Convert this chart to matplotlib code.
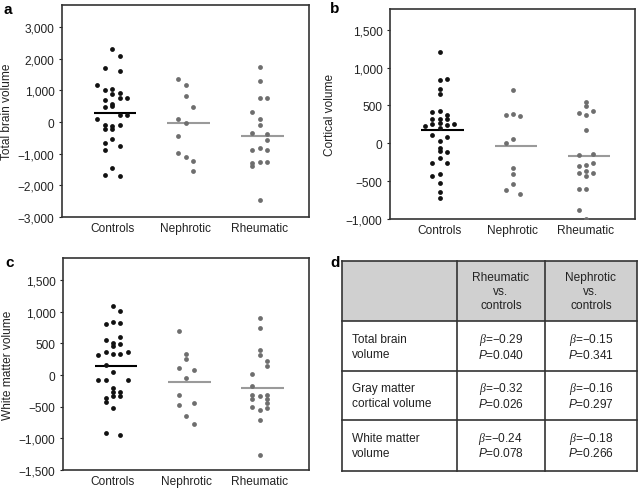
import numpy as np
import matplotlib
matplotlib.use('Agg')
import matplotlib.pyplot as plt
from matplotlib.ticker import FuncFormatter

plt.rcParams['font.family'] = ['Liberation Sans', 'DejaVu Sans']
plt.rcParams['mathtext.fontset'] = 'custom'
plt.rcParams['mathtext.it'] = 'Liberation Serif:italic'
plt.rcParams['mathtext.sf'] = 'Liberation Sans:italic'
plt.rcParams['mathtext.rm'] = 'Liberation Sans'

groups = ['Controls', 'Nephrotic', 'Rheumatic']

# --- panel a: total brain volume ---
tbv_controls = [2316, 2084, 1716, 1611, 1179, 1000, 1053, 916, 895, 684, 758, 758, 568, 495, 474,
                232, 232, 84, -105, -126, -105, -232, -210, -537, -663, -747, -884, -1453, -1663, -1716]
tbv_nephrotic = [1368, 1158, 832, 474, 84, -42, -453, -979, -1116, -1232, -1537]
tbv_rheumatic = [1737, 1295, 758, 758, 316, 84, -84, -337, -368, -579, -811, -895, -895,
                 -1284, -1389, -1263, -1263, -2474]
tbv_medians = [295, -42, -453]

# --- panel b: cortical volume ---
cv_controls = [1211, 850, 837, 718, 652, 432, 410, 379, 320, 320, 320, 233, 260, 270, 240, 256,
               203, 114, 84, 26, -62, -101, -119, -194, -264, -264, -405, -427, -524, -639, -718]
cv_nephrotic = [700, 374, 388, 357, 57, 0, -330, -400, -537, -621, -670]
cv_rheumatic = [542, 489, 401, 374, 423, 181, -154, -141, -295, -282, -264, -396, -361, -392,
                -427, -603, -603, -877, -1000]
cv_medians = [181, -31, -163]

# --- panel c: white matter volume ---
wm_controls = [1095, 1005, 800, 837, 816, 600, 547, 505, 463, 484, 368, 332, 332, 368, 311, 158,
               47, -84, -74, -84, -205, -274, -274, -326, -326, -370, -420, -521, -921, -953]
wm_nephrotic = [689, 332, 247, 111, 84, -42, -316, -474, -442, -653, -774]
wm_rheumatic = [900, 742, 395, 316, 226, 142, 21, -168, -311, -326, -311, -379, -384, -447,
                -510, -547, -526, -716, -1268]
wm_medians = [147, -105, -205]

# horizontal slot of each dot in the swarm (layout only)
tbv_slots = [[0, 1, -1, 1, -2, -1, 0, 1, 0, -1, 1, 2, 0, 0, -1, 1, 2, -2, -1, 0, 1, -1, 0, 0, -1, 1, -1, 0, -1, 1],
             [-1, 0, 0, 1, -1, 0, -1, -1, 0, 1, 1],
             [0, 0, 0, 1, -1, 0, 0, -1, 1, 1, 0, -1, 1, -1, -1, 0, 1, 0]]
cv_slots = [[0, 1, 0, 0, 0, 0, -1, 1, -1, 0, 1, -2, -1, 0, 1, 2, 0, -1, 1, 0, 0, 0, 1, 0, -1, 1, 0, -1, 0, 0, 0],
            [0, -1, 0, 1, 0, -1, 0, 0, 0, -1, 1],
            [0, 0, -1, 0, 1, 0, -1, 1, -1, 0, 1, -1, 0, 1, 0, -1, 0, -1, 0]]
wm_slots = [[0, 1, -1, 0, 1, 1, -1, 0, 0, 1, -1, 0, 1, 2, -2, -1, 0, -2, -1, 2, 0, 0, 1, 0, 1, -1, -1, 0, -1, 1],
            [-1, 0, 0, -1, 1, 0, -1, -1, 1, 0, 1],
            [0, 0, 0, 0, 1, 1, -1, -1, -1, 0, 1, 1, -1, 1, -1, 0, 1, 0, 0]]

# --- panel d: table ---
col_heads = ['', 'Rheumatic\nvs.\ncontrols', 'Nephrotic\nvs.\ncontrols']
row_heads = ['Total brain\nvolume', 'Gray matter\ncortical volume', 'White matter\nvolume']
betas_rheum = ['\u22120.29', '\u22120.32', '\u22120.24']
pvals_rheum = ['0.040', '0.026', '0.078']
betas_neph = ['\u22120.15', '\u22120.16', '\u22120.18']
pvals_neph = ['0.341', '0.297', '0.266']

FS = 8.6
W, H = 639, 489
fig = plt.figure(figsize=(W / 100, H / 100), dpi=100)


def px_axes(x0, y0, x1, y1):
    return fig.add_axes([x0 / W, 1 - y1 / H, (x1 - x0) / W, (y1 - y0) / H])


def fmt(v, pos):
    return f'{int(round(v)):,}'.replace('-', '\u2212')


def dot_panel(ax, data, slots, medians, ticks, ylim, ylabel, lab_x):
    dot_cols = ['#111111', '#6e6e6e', '#6e6e6e']
    line_cols = ['#000000', '#9a9a9a', '#9a9a9a']
    for i, (vals, sl) in enumerate(zip(data, slots)):
        xs = (i + 1) + np.array(sl) * 0.1
        ax.scatter(xs, vals, s=12, color=dot_cols[i], linewidths=0, zorder=3)
        ax.plot([i + 1 + 0.04 - 0.29, i + 1 + 0.04 + 0.29], [medians[i]] * 2,
                color=line_cols[i], lw=1.5, solid_capstyle='butt', zorder=2)
    ax.set_xlim(0.32, 3.67)
    ax.set_ylim(*ylim)
    ax.set_yticks(ticks)
    ax.yaxis.set_major_formatter(FuncFormatter(fmt))
    ax.set_xticks([1, 2, 3])
    ax.set_xticklabels(groups)
    ax.tick_params(axis='x', length=0, pad=3.5, labelsize=FS, colors='#222222')
    ax.tick_params(axis='y', length=2.5, width=0.8, pad=3, labelsize=FS, colors='#222222')
    ax.set_ylabel(ylabel, fontsize=FS, color='#222222')
    ax.yaxis.set_label_coords(lab_x, 0.5)
    for sp in ax.spines.values():
        sp.set_linewidth(1.2)
        sp.set_color('#333333')


ax_a = px_axes(62, 6, 309, 218)
dot_panel(ax_a, [tbv_controls, tbv_nephrotic, tbv_rheumatic], tbv_slots, tbv_medians,
          np.arange(-3000, 3001, 1000), (-3000, 3700), 'Total brain volume', -0.198)

ax_b = px_axes(390, 10, 635, 220)
dot_panel(ax_b, [cv_controls, cv_nephrotic, cv_rheumatic], cv_slots, cv_medians,
          np.arange(-1000, 1501, 500), (-1000, 1775), 'Cortical volume', -0.22)

ax_c = px_axes(63, 259, 309, 471)
dot_panel(ax_c, [wm_controls, wm_nephrotic, wm_rheumatic], wm_slots, wm_medians,
          np.arange(-1500, 1501, 500), (-1500, 1850), 'White matter volume', -0.2)

# table panel
ax_d = px_axes(342, 262, 637, 472)
ax_d.set_xlim(0, 1)
ax_d.set_ylim(1, 0)
ax_d.axis('off')
col_edges = [0, 0.389, 0.688, 1]
row_edges = [0, 0.288, 0.526, 0.756, 1]
ax_d.add_patch(plt.Rectangle((0, 0), 1, row_edges[1], color='#d0d0d0', lw=0, zorder=1))
for x in col_edges:
    ax_d.plot([x, x], [0, 1], color='#333333', lw=1.2, zorder=2, clip_on=False)
for y in row_edges:
    ax_d.plot([0, 1], [y, y], color='#333333', lw=1.2, zorder=2, clip_on=False)

for j, head in enumerate(col_heads):
    if head:
        ax_d.text((col_edges[j] + col_edges[j + 1]) / 2, row_edges[1] / 2, head,
                  ha='center', va='center', fontsize=FS, linespacing=1.2, color='#222222')
cols_vals = [(betas_rheum, pvals_rheum), (betas_neph, pvals_neph)]
for r, rh in enumerate(row_heads):
    yc = (row_edges[r + 1] + row_edges[r + 2]) / 2
    ax_d.text(0.034, yc, rh, ha='left', va='center', fontsize=FS, linespacing=1.25, color='#222222')
    for j, (bs, ps) in enumerate(cols_vals):
        xc = (col_edges[j + 1] + col_edges[j + 2]) / 2
        ax_d.text(xc, yc - 0.036, r'$\beta$=' + bs[r], ha='center', va='center',
                  fontsize=FS, color='#222222')
        ax_d.text(xc, yc + 0.036, r'$\mathsf{P}$=' + ps[r], ha='center', va='center',
                  fontsize=FS, color='#222222')

# panel letters
for lab, (x, y) in zip('abcd', [(3, 10), (330, 9), (5, 263), (330, 263)]):
    fig.text(x / W, 1 - y / H, lab, fontsize=11, fontweight='bold', va='center', ha='left')

fig.savefig('out.png', dpi=100)
